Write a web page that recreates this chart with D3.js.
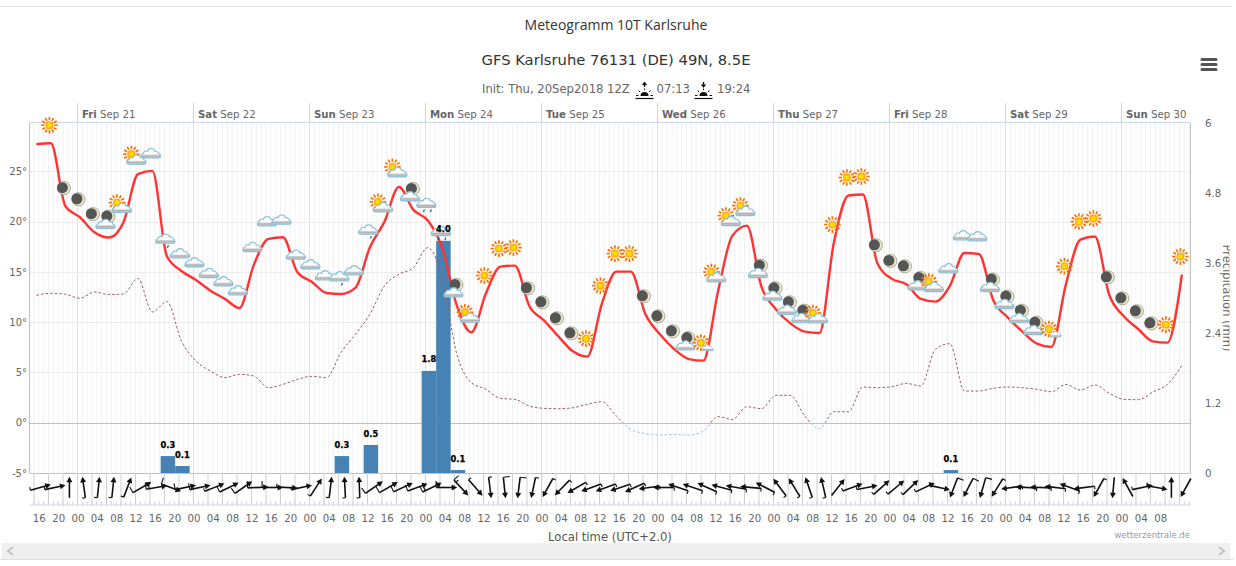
<!DOCTYPE html>
<html><head><meta charset="utf-8">
<script src="https://cdn.jsdelivr.net/npm/d3@7"></script>
<style>
html,body{margin:0;padding:0;background:#fff;overflow:hidden}
svg{display:block}
text{font-family:"DejaVu Sans",sans-serif}
</style></head><body>
<svg id="c" width="1236" height="566"></svg>
<script>
// ---- data (3-hourly steps, hours counted from Fri Sep 21 00:00 local) ----
const firstHour = -8.5, stepHours = 3;
const temperature = [27.69,27.79,21.53,20.43,18.94,18.41,19.90,24.71,25.04,16.55,15.09,14.20,13.13,12.31,11.41,15.72,18.28,18.44,14.96,14.00,
12.90,12.80,13.40,17.45,19.97,23.45,21.16,20.10,17.31,11.61,8.99,12.84,15.52,15.62,11.58,10.18,8.59,7.10,6.57,11.84,
15.02,15.02,10.78,8.79,7.30,6.33,6.17,13.00,18.60,19.60,13.53,11.28,9.88,9.05,8.92,17.91,22.59,22.69,15.85,14.30,
13.76,12.31,12.04,13.60,16.88,16.78,12.14,10.45,9.05,7.86,7.53,13.76,18.21,18.51,12.67,10.58,9.29,8.09,7.96,14.73];
const dewPoint = [12.67,12.87,12.77,12.37,13.0,12.74,12.8,14.33,11.01,12.04,8.13,6.14,5.14,4.48,4.81,4.64,3.48,3.81,4.31,4.61,
4.48,6.97,8.79,10.78,13.6,14.76,15.42,17.41,14.26,6.8,3.98,3.32,2.42,2.32,1.66,1.43,1.39,1.49,1.82,2.09,
0.66,-0.66,-1.09,-1.23,-1.16,-1.23,-0.83,0.6,0.33,1.59,1.39,2.72,2.72,0.66,-0.6,1.09,1.09,3.55,3.48,3.58,
3.91,3.65,7.3,7.86,3.15,3.15,3.42,3.55,3.48,3.32,3.08,3.81,3.25,3.75,2.92,2.32,2.29,3.05,3.81,5.7];
const weatherSymbols = ["","sun","moon","moon","moon","mooncloud","suncloud","suncloud","cloud","drizzle","cloud","cloud","cloud","cloud","cloud","cloud","cloud","cloud","cloud","cloud",
"cloud","drizzle","cloud","drizzle","suncloud","suncloud","mooncloud","rain","rain","mooncloud","suncloud","sun","sun","sun","moon","moon","moon","moon","sun","sun",
"sun","sun","moon","moon","moon","mooncloud","sunsmall","suncloud","suncloud","suncloud","mooncloud","mooncloud","mooncloud","mooncloud","suncloud","sun","sun","sun","moon","moon",
"moon","mooncloud","suncloud","cloud","cloud","cloud","mooncloud","mooncloud","mooncloud","mooncloud","sunsmall","sun","sun","sun","moon","moon","moon","moon","sun","sun"];
const precipIndex = [9,10,21,23,27,28,29,63];
const precipValues = [0.29,0.12,0.29,0.48,1.75,3.98,0.05,0.05];
const windHeading = [74,78,0,352,6,6,21,60,80,110,78,78,68,64,55,88,90,93,78,33,
7,357,358,55,60,65,70,64,90,137,139,173,174,187,192,209,224,240,250,250,
252,246,262,270,289,289,294,285,280,275,297,323,328,341,347,38,70,79,48,50,
46,65,102,201,207,196,212,262,273,272,277,290,263,209,185,331,78,100,0,209];
const windBarbs = [1,1,0,1,1,1,1,2,4,2,2,2,1,2,2,2,2,1,1,1,
1,1,1,2,2,2,2,4,3,3,1,1,2,2,1,1,1,1,1,1,
1,1,1,1,1,1,1,1,1,1,1,1,1,1,1,0,1,1,1,1,
1,1,1,2,2,2,1,1,1,1,1,1,1,1,0,0,1,1,0,0];
const dayTicks = [0,24,48,72,96,120,144,168,192,216];
const dayNames = ["Fri","Sat","Sun","Mon","Tue","Wed","Thu","Fri","Sat","Sun"];
const dayDates = ["Sep 21","Sep 22","Sep 23","Sep 24","Sep 25","Sep 26","Sep 27","Sep 28","Sep 29","Sep 30"];
const tempTicks = [-5,0,5,10,15,20,25];
const precipTicks = [0,1.2,2.4,3.6,4.8,6];
const hourLabels = ["16","20","00","04","08","12"];

// ---- scales ----
const W=1236,H=566;
const L=29.5,R=1190.5,T=123,B=473;
const x=d3.scaleLinear().domain([-9.93,230.28]).range([L,R]);
const yT=d3.scaleLinear().domain([-5,29.8]).range([B,T]);
const yP=d3.scaleLinear().domain([0,6]).range([B,T]);
const hourOf=i=>firstHour+stepHours*i;
const svg=d3.select("#c");
const defs=svg.append("defs");
defs.append("clipPath").attr("id","above").append("rect").attr("x",0).attr("y",0).attr("width",W).attr("height",yT(0));
defs.append("clipPath").attr("id","below").append("rect").attr("x",0).attr("y",yT(0)).attr("width",W).attr("height",H-yT(0));
defs.append("clipPath").attr("id","page").append("rect").attr("x",0).attr("y",0).attr("width",1229.5).attr("height",H);
const sunG=defs.append("radialGradient").attr("id","sunG");
sunG.append("stop").attr("offset","0%").attr("stop-color","#ffe800");
sunG.append("stop").attr("offset","65%").attr("stop-color","#ffcc00");
sunG.append("stop").attr("offset","100%").attr("stop-color","#ff8c00");
const cloudG=defs.append("linearGradient").attr("id","cloudG").attr("x1",0).attr("x2",0).attr("y1",0).attr("y2",1);
cloudG.append("stop").attr("offset","0%").attr("stop-color","#ffffff");
cloudG.append("stop").attr("offset","60%").attr("stop-color","#fbfbfb");
cloudG.append("stop").attr("offset","78%").attr("stop-color","#b0b0b0");
cloudG.append("stop").attr("offset","100%").attr("stop-color","#c9d6de");

// ---- page furniture ----
svg.append("rect").attr("width",W).attr("height",H).attr("fill","#fff");
svg.append("line").attr("x1",0).attr("x2",1232).attr("y1",6.5).attr("y2",6.5).attr("stroke","#e3e3e3");
svg.append("rect").attr("x",2).attr("y",543).attr("width",1228).attr("height",16).attr("fill","#efefef");
svg.append("line").attr("x1",0).attr("x2",1233).attr("y1",559.5).attr("y2",559.5).attr("stroke","#dcdcdc");
svg.append("path").attr("d","M13,547 L8,551 L13,555 M1219,547 L1224,551 L1219,555").attr("fill","none").attr("stroke","#c4c4c4").attr("stroke-width",2);

svg.append("text").attr("x",616).attr("y",30).attr("text-anchor","middle").attr("fill","#333")
  .style("font-family","'Open Sans',sans-serif").style("font-size","14px").text("Meteogramm 10T Karlsruhe");
svg.append("text").attr("x",616).attr("y",65).attr("text-anchor","middle").attr("fill","#333")
  .style("font-size","14.75px").text("GFS Karlsruhe 76131 (DE) 49N, 8.5E");
const sub=svg.append("g").attr("fill","#666").style("font-size","11.6px");
sub.append("text").attr("x",482).attr("y",93).text("Init: Thu, 20Sep2018 12Z");
sub.append("text").attr("x",656.5).attr("y",93).text("07:13");
sub.append("text").attr("x",717).attr("y",93).text("19:24");
function riseIcon(cx,up){
  const g=svg.append("g").attr("transform",`translate(${cx},0)`).attr("fill","none").attr("stroke","#111");
  g.append("line").attr("x1",-9).attr("x2",9).attr("y1",98.5).attr("y2",98.5).attr("stroke-width",1.2);
  g.append("path").attr("d","M-4,96 A4,4 0 0 1 4,96 Z").attr("fill","#111").attr("stroke","none");
  [[-8.5,95.5,-6,95.5],[8.5,95.5,6,95.5],[-6,90.5,-4.5,92],[6,90.5,4.5,92],[0,88.5,0,90.2]].forEach(s=>
    g.append("line").attr("x1",s[0]).attr("y1",s[1]).attr("x2",s[2]).attr("y2",s[3]).attr("stroke-width",1));
  g.append("line").attr("x1",0).attr("x2",0).attr("y1",up?87:82).attr("y2",up?84:85.5).attr("stroke-width",1.4);
  g.append("path").attr("fill","#111").attr("stroke","none").attr("d",up?"M0,81.5 L2.6,85 L-2.6,85 Z":"M0,88 L2.6,84.5 L-2.6,84.5 Z");
}
riseIcon(644.5,true); riseIcon(703.5,false);

// hamburger
svg.append("g").attr("stroke","#555").attr("stroke-width",3).attr("stroke-linecap","round")
  .selectAll("line").data([59.5,64.5,69.5]).join("line").attr("x1",1202).attr("x2",1216).attr("y1",d=>d).attr("y2",d=>d);

// ---- grid ----
const grid=svg.append("g").attr("fill","none");
const allHours=d3.range(-9,231);
grid.append("g").selectAll("line").data(allHours).join("line")
  .attr("x1",d=>x(d)).attr("x2",d=>x(d)).attr("y1",T).attr("y2",B).attr("stroke","#f1f1f1");
grid.append("g").selectAll("line").data(dayTicks).join("line")
  .attr("x1",d=>x(d)).attr("x2",d=>x(d)).attr("y1",T).attr("y2",B).attr("stroke","#e2e2e2");
grid.append("g").selectAll("line").data(tempTicks).join("line")
  .attr("x1",L).attr("x2",R).attr("y1",d=>Math.round(yT(d))+.5).attr("y2",d=>Math.round(yT(d))+.5)
  .attr("stroke",d=>d<=0?"#c0c0c0":"#ececec");
svg.append("line").attr("x1",L).attr("x2",R).attr("y1",T-.5).attr("y2",T-.5).attr("stroke","#ccd6eb");
svg.append("line").attr("x1",L).attr("x2",L).attr("y1",T).attr("y2",B).attr("stroke","#c0c0c0");
svg.append("line").attr("x1",R).attr("x2",R).attr("y1",T).attr("y2",B).attr("stroke","#c0c0c0");

// wind lane columns
svg.append("g").selectAll("line").data(d3.range(-9,231,3)).join("line")
  .attr("x1",d=>x(d)).attr("x2",d=>x(d)).attr("y1",B).attr("y2",505).attr("stroke","#d0d0d0");

// ---- axes ----
function styleAxis(g,size,fill){
  g.select(".domain").remove();
  g.selectAll(".tick line").remove();
  g.selectAll("text").attr("fill",fill||"#666").style("font-size",size);
}
const axBottom=d3.axisBottom(x).tickValues(d3.range(-8,225,4))
  .tickFormat(h=>hourLabels[(((h+8)/4)%6+6)%6]).tickSize(0).tickPadding(0);
svg.append("g").attr("transform","translate(0,522)").call(axBottom).call(g=>styleAxis(g,"10.2px"))
  .selectAll("text").attr("y",0).attr("dy",0);
svg.append("line").attr("x1",L).attr("x2",R).attr("y1",505).attr("y2",505).attr("stroke","#ccd6eb");
svg.append("g").selectAll("line").data(allHours).join("line")
  .attr("x1",d=>x(d)).attr("x2",d=>x(d)).attr("y1",501.5).attr("y2",505).attr("stroke","#d0d0d0");

const axLeft=d3.axisLeft(yT).tickValues(tempTicks).tickFormat(d=>(d<0?"-":"")+Math.abs(d)+"°").tickSize(0).tickPadding(0);
svg.append("g").attr("transform","translate(27,0)").call(axLeft).call(g=>styleAxis(g,"10px"));
const axRight=d3.axisRight(yP).tickValues(precipTicks).tickFormat(d=>String(d)).tickSize(0).tickPadding(0);
svg.append("g").attr("transform","translate(1205,0)").call(axRight).call(g=>styleAxis(g,"10.2px"));

const topAxis=svg.append("g");
topAxis.selectAll("line").data(dayTicks).join("line")
  .attr("x1",d=>x(d)).attr("x2",d=>x(d)).attr("y1",103).attr("y2",T).attr("stroke","#ccd6eb");
const dayLab=topAxis.selectAll("text").data(dayTicks).join("text")
  .attr("x",d=>x(d)+4.5).attr("y",118).attr("fill","#666").style("font-size","10.2px");
dayLab.append("tspan").attr("font-weight","bold").text((d,i)=>dayNames[i]);
dayLab.append("tspan").text((d,i)=>" "+dayDates[i]);

svg.append("g").attr("clip-path","url(#page)").append("text")
  .attr("transform","translate(1222.5,298) rotate(90)").attr("text-anchor","middle")
  .attr("fill","#666").style("font-size","11.5px").text("Precipitation (mm)");
svg.append("text").attr("x",610).attr("y",541).attr("text-anchor","middle").attr("fill","#555")
  .style("font-size","11.6px").text("Local time (UTC+2.0)");
svg.append("text").attr("x",1190).attr("y",538).attr("text-anchor","end").attr("fill","#999")
  .style("font-size","8.5px").text("wetterzentrale.de");

// ---- bars ----
const barW=x(stepHours)-x(0);
svg.append("g").selectAll("rect").data(precipValues).join("rect")
  .attr("x",(d,i)=>x(hourOf(precipIndex[i]))+1-barW/2).attr("width",barW)
  .attr("y",d=>yP(d)).attr("height",d=>B-yP(d)).attr("fill","#4682b4");

// ---- lines ----
const linePath=vals=>d3.line().x((d,i)=>x(hourOf(i))).y(d=>yT(d)).curve(d3.curveMonotoneX)(vals);
const dew=svg.append("g").attr("fill","none").attr("stroke-width",1).attr("stroke-dasharray","2.6,2");
dew.append("path").attr("d",linePath(dewPoint)).attr("stroke","#96606c").attr("clip-path","url(#above)");
dew.append("path").attr("d",linePath(dewPoint)).attr("stroke","#9dc3e6").attr("clip-path","url(#below)");
svg.append("path").attr("d",linePath(temperature)).attr("fill","none").attr("stroke","#ff3333").attr("stroke-width",2.4);

// ---- weather symbols ----
function drawSun(g,cx,cy,r){
  const s=g.append("g").attr("transform",`translate(${cx},${cy}) scale(${r/8})`);
  d3.range(12).forEach(a=>{
    const t=a*Math.PI/6;
    s.append("line").attr("x1",4.8*Math.cos(t)).attr("y1",4.8*Math.sin(t)).attr("x2",8*Math.cos(t)).attr("y2",8*Math.sin(t))
     .attr("stroke","#ff6f00").attr("stroke-width",1.6);
  });
  s.append("circle").attr("r",3.8).attr("fill","url(#sunG)");
}
function drawMoon(g,cx,cy){
  const s=g.append("g").attr("transform",`translate(${cx},${cy})`);
  s.append("circle").attr("r",6.6).attr("fill","#e8e4c6").attr("stroke","#8f8f80").attr("stroke-width",.7);
  s.append("circle").attr("cx",-1.5).attr("cy",-.5).attr("r",5.5).attr("fill","#555");
}
const cloudPath="M-8,5 C-10,5 -10.5,1 -7.5,.5 C-7.5,-1.5 -5,-2.5 -3.5,-1.5 C-2.5,-5 3,-5.5 4,-1.5 C5.5,-2 7.5,-1 7.5,.5 C10.5,1 10,5 8,5 Z";
function drawCloud(g,cx,cy,sc){
  g.append("path").attr("d",cloudPath).attr("transform",`translate(${cx},${cy}) scale(${sc||1})`)
    .attr("fill","url(#cloudG)").attr("stroke","#86c0dc").attr("stroke-width",1.1);
}
function drawDrops(g,cx,cy,offs){
  offs.forEach(o=>g.append("line").attr("x1",cx+o[0]).attr("y1",cy+o[1]+2.4).attr("x2",cx+o[0]+1).attr("y2",cy+o[1])
    .attr("stroke","#1768a8").attr("stroke-width",1.3));
}
const symbolDraw={
  sun:(g)=>drawSun(g,0,0,8.3),
  moon:(g)=>drawMoon(g,0,0),
  cloud:(g)=>drawCloud(g,0,0),
  drizzle:(g)=>{drawCloud(g,0,0);drawDrops(g,2,7,[[0,0]]);},
  rain:(g)=>{drawCloud(g,0,0);drawDrops(g,0,7,[[-3,0],[4,0]]);},
  suncloud:(g)=>{drawSun(g,-5,-2,8.3);drawCloud(g,0,3);},
  mooncloud:(g)=>{drawMoon(g,1,-3);drawCloud(g,-2,4);},
  sunsmall:(g)=>{drawSun(g,-1,0,8.3);drawCloud(g,5.5,5,.62);}
};
const sym=svg.append("g");
weatherSymbols.forEach((s,i)=>{
  if(!s) return;
  const g=sym.append("g").attr("transform",`translate(${x(hourOf(i))-1.5},${yT(temperature[i])-18})`);
  symbolDraw[s](g);
});

// ---- precipitation labels ----
svg.append("g").selectAll("text").data(precipValues).join("text")
  .attr("x",(d,i)=>x(hourOf(precipIndex[i]))+1).attr("y",d=>yP(d)-8.5).attr("text-anchor","middle")
  .attr("fill","#000").attr("stroke","#000").attr("stroke-width",.25)
  .style("font-size","8.3px").style("font-weight","bold").text(d=>d.toFixed(1));

// ---- wind arrows ----
const wind=svg.append("g");
windHeading.forEach((b,i)=>{
  const g=wind.append("g").attr("transform",`translate(${x(hourOf(i))+4},487.5) rotate(${b})`);
  g.append("line").attr("x1",0).attr("x2",0).attr("y1",10.3).attr("y2",-7).attr("stroke","#111").attr("stroke-width",1.6);
  g.append("path").attr("d","M0,-10.8 L3,-5.3 L-3,-5.3 Z").attr("fill","#111");
  let n=windBarbs[i],y=10.3;
  while(n>0){
    const len=n>=2?6.5:3.2;
    g.append("line").attr("x1",0).attr("x2",-len).attr("y1",y).attr("y2",y).attr("stroke","#111").attr("stroke-width",1.1);
    n-=2; y-=3;
  }
});
</script>
</body></html>
